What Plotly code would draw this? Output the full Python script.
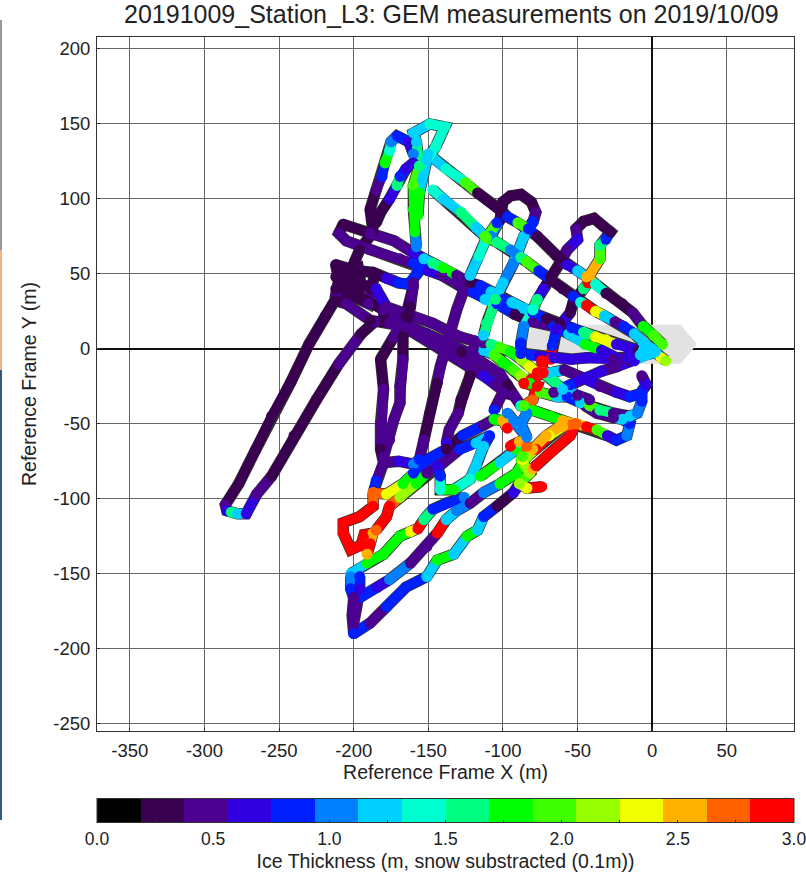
import plotly.graph_objects as go

band_colors = ["#000000", "#3a0050", "#4b0090", "#3000e0", "#0020ff", "#0080ff", "#00d0ff", "#00ffd0",
               "#00ff80", "#00ff00", "#40ff00", "#98ff00", "#f0ff00", "#ffb000", "#ff6000", "#ff0000"]
cbar_tickvals = [0, 0.25, 0.5, 0.75, 1.0, 1.25, 1.5, 1.75, 2.0, 2.25, 2.5, 2.75, 3.0]
cbar_ticktext = ["0.0", "", "0.5", "", "1.0", "", "1.5", "", "2.0", "", "2.5", "", "3.0"]
x_ticks = [-350, -300, -250, -200, -150, -100, -50, 0, 50]
x_labels = ["-350", "-300", "-250", "-200", "-150", "-100", "-50", "0", "50"]
y_ticks = [-250, -200, -150, -100, -50, 0, 50, 100, 150, 200]
y_labels = ["-250", "-200", "-150", "-100", "-50", "0", "50", "100", "150", "200"]
ship_x = [-86, -80, 19, 30, 19, -80]
ship_y = [3, 16, 16, 3, -10, -10]

west_leg = [(-211,35,.37),(-219,22,.3),(-230,3,.3),(-242,-22,.35),(-255,-45,.3),(-266,-68,.35),(-277,-90,.35),
            (-286,-104,.45),(-285,-108,.7),(-282,-109,1.5),(-278,-110,1.3),(-272,-110,.6),(-265,-97,.4),(-255,-85,.35),
            (-240,-58,.35),(-225,-34,.35),(-210,-10,.45),(-195,10,.35),(-186,18,.45)]
north_loop = [(-158,68,1.0),(-159,78,1.7),(-160,93,1.8),(-160,109,1.9),(-156,122,1.6),(-158,138,1.3),(-160,144,1.3),
              (-149,150,1.4),(-139,148,1.4),(-145,135,1.35),(-151,126,1.3),(-156,104,1.7),(-157,89,1.8)]
nw_leg_a = [(-189,93,.3),(-185,106,.45),(-181,115,.85),(-179,124,1.8),(-176,132,1.4),(-175,138,1.0),(-171,142,.75),(-163,138,.7),
            (-160,130,1.0),(-155,122,1.3)]
nw_leg_b = [(-185,84,.35),(-182,91,.35),(-176,100,.7),(-171,109,1.5),(-169,115,.8),(-165,120,.65),(-160,124,.7),(-155,122,1.2)]
nw_join = [(-189,93,.3),(-188,86,.3),(-187,78,.35),(-196,66,.35),(-205,45,.35)]
line_1 = [(-150,130,1.2),(-138,120,1.35),(-125,111,1.9),(-117,104,.3),(-102,93,.3),(-97,88,.8),(-90,84,1.9),(-83,80,.9),
          (-77,75,.3),(-64,62,.35),(-57,56,.65),(-50,52,1.3),(-44,48,2.5),(-38,43,1.4),(-31,37,.35),(-20,30,.3),(-13,24,.45),
          (-6,15,1.8),(1,9,1.9),(7,3,2.0)]
line_2 = [(-147,106,1.4),(-140,100,1.3),(-128,91,1.5),(-118,81,1.3),(-112,75,1.9),(-104,71,1.5),(-95,66,.95),(-88,61,1.6),
          (-84,58,1.9),(-76,52,.8),(-68,46,.35),(-60,40,.35),(-53,35,.75),(-48,31,1.4),(-44,29,2.9),(-38,25,2.3),(-32,22,1.3),
          (-25,18,.5),(-19,15,.8),(-12,10,1.2),(-6,4,1.2),(0,0,1.2),(6,-6,2.3),(9,-8,2.2)]
line_0 = [(-207,83,.35),(-189,77,.4),(-173,72,.4),(-160,64,.6),(-153,60,1.2),(-147,57,1.5),(-140,54,1.7),(-131,49,.4),
          (-122,44,.35),(-115,42,.8),(-108,38,1.2),(-100,33,.8),(-94,31,1.2),(-86,27,1.2),(-80,24,.8),(-71,20,.35),(-62,17,.35),
          (-54,14,.8),(-46,11,1.6),(-38,8,2.3),(-31,6,2.4),(-24,3,.7),(-16,0,.65),(-9,-1,.35),(-3,-3,.45)]
line_0b = [(-207,83,.35),(-210,77,.4),(-205,72,.4),(-189,66,.4),(-169,60,.4),(-160,57,.8),(-150,52,.7),(-141,49,.4),
           (-129,42,.45),(-120,38,.8),(-112,33,1.3),(-104,30,.8),(-92,23,.35),(-80,18,.45),(-66,15,.8),(-56,10,1.3),(-45,3,1.8),
           (-34,-1,.6),(-24,-6,.7),(-15,-8,.4)]
row_1 = [(-212,56,.35),(-198,52,.35),(-187,51,.25),(-178,47,.65),(-170,44,.85),(-163,43,.85),(-158,50,.85),(-152,57,.8)]
row_2 = [(-212,48,.35),(-197,44,.35),(-185,40,.65),(-178,28,.45),(-165,24,.45),(-147,17,.4),(-129,8,.4),(-113,4,.45),
         (-108,3,1.5),(-102,1,2.0),(-95,-2,1.8),(-88,-7,2.2),(-82,-12,2.35),(-77,-16,2.9),(-68,-16,1.3),(-59,-14,.45),
         (-45,-20,.65),(-35,-25,.5),(-24,-29,.65),(-15,-32,.8),(-8,-30,.8),(-4,-24,.65),(-7,-18,.4)]
row_3 = [(-212,40,.35),(-200,37,.35),(-180,26,.45),(-169,17,.4),(-151,10,.45),(-134,2,.4),(-118,-5,.4),(-113,-1,1.3),
         (-106,-4,1.9),(-100,-9,1.7),(-93,-14,1.9),(-88,-18,2.2),(-82,-23,1.7),(-75,-29,2.0),(-64,-32,1.3),(-57,-32,.9),
         (-48,-36,1.2),(-42,-38,1.9),(-35,-41,1.5),(-26,-43,.5),(-15,-45,1.3),(-10,-43,1.0),(-7,-35,.85),(-7,-30,.8)]
row_4 = [(-212,32,.35),(-205,30,.4),(-189,19,.35),(-176,17,.45),(-160,14,.4),(-142,4,.45),(-128,-2,.35),(-120,-5,.45),
         (-102,-17,.45),(-97,-24,.35),(-93,-31,.45),(-88,-38,1.4),(-80,-41,1.7),(-68,-45,1.7),(-60,-48,2.5),(-50,-50,2.5),
         (-44,-52,2.9),(-37,-54,2.0),(-30,-58,.65),(-24,-61,.85),(-17,-58,1.0),(-15,-50,.9),(-20,-47,1.3),(-26,-46,.4),
         (-37,-43,.45),(-45,-38,.4)]
row_5 = [(-180,23,.35),(-165,14,.4),(-142,0,.4),(-128,-7,.45),(-113,-18,.65),(-105,-24,.4),(-97,-30,.35)]
cross_1 = [(-122,49,1.3),(-116,62,1.4),(-111,74,1.9),(-104,84,.9)]
cross_2 = [(-80,85,.9),(-86,75,1.2),(-93,57,1.1),(-100,44,1.2),(-105,33,1.6),(-111,17,1.6),(-113,9,1.2)]
arch_1 = [(-108,75,1.0),(-102,86,.35),(-100,98,.35),(-95,102,.3),(-88,103,.3),(-81,98,.35),(-78,91,.4),(-80,84,.9)]
arch_2 = [(-68,-7,2.9),(-67,2,.9),(-64,13,.65),(-55,24,.35),(-53,31,.35),(-46,40,1.6),(-43,44,2.9),(-42,49,2.5),(-35,60,2.0),
          (-35,69,1.5),(-31,73,.8),(-28,78,.35),(-33,82,.35),(-39,87,.35),(-46,85,.35),(-51,80,.4),(-50,73,.7),(-57,66,.4),
          (-62,57,.35),(-68,48,.35),(-73,40,.7),(-77,33,1.6),(-80,26,1.4),(-86,15,1.0),(-88,4,.9),(-88,-3,.65)]
center_h = [(-88,-3,.85),(-76,-5,.65),(-66,-6,.65),(-54,-7,.65),(-44,-6,.6),(-34,-6,.65),(-26,-7,.4),(-16,-6,.65),(-8,-4,1.2),(0,-1,1.2)]
center_sw = [(-2,-3,1.2),(-12,-8,.7),(-24,-12,.4),(-34,-15,.65),(-44,-19,.65),(-55,-24,.85),(-66,-29,.45)]
red_ns = [(-74,-8,2.9),(-73,-16,2.9),(-86,-23,2.9),(-77,-25,2.9),(-80,-34,2.7),(-86,-38,2.0)]
mid_diag = [(-73,-16,1.6),(-65,-22,1.5),(-60,-27,1.3),(-50,-31,.5),(-42,-34,.45)]
south_1 = [(-182,-7,.35),(-173,8,.4),(-165,22,.35),(-160,42,.45)]
south_1b = [(-182,-7,.35),(-180,-27,.45),(-182,-50,.4),(-182,-67,.35),(-180,-76,.4),(-185,-88,.85),(-187,-96,2.5)]
south_2 = [(-160,44,.4),(-162,28,.35),(-167,8,.35),(-167,-7,.45),(-169,-25,.4),(-169,-36,.4),(-173,-47,.4),(-176,-61,.45),(-180,-72,.4)]
south_3 = [(-127,37,.4),(-131,26,.4),(-142,-12,.4),(-144,-23,.35),(-149,-43,.35),(-153,-61,.4),(-156,-74,.75)]
south_4 = [(-120,0,.4),(-122,-18,.35),(-128,-34,.35),(-130,-43,.4),(-136,-54,.45),(-138,-63,.65)]
south_5 = [(-93,-31,.45),(-100,-29,.45),(-106,-41,.8)]
cross_low = [(-180,-76,.4),(-170,-75,.65),(-160,-77,1.0),(-156,-74,.85)]
band_a = [(-187,-96,2.7),(-178,-97,2.3),(-167,-90,1.8),(-160,-83,.85),(-149,-73,.8),(-138,-67,.35),(-127,-58,.75),(-113,-51,.4),
          (-106,-47,1.7),(-100,-48,2.5),(-97,-53,2.9)]
band_b = [(-176,-105,2.7),(-169,-99,2.2),(-158,-90,1.7),(-151,-83,.45),(-140,-76,.4),(-129,-67,.75),(-118,-63,1.2),(-109,-58,1.0)]
cyan_loop = [(-109,-58,.85),(-113,-65,1.2),(-118,-78,1.2),(-122,-87,1.4),(-133,-94,1.7),(-142,-94,1.4),(-142,-85,.9),(-144,-78,.7)]
green_link = [(-115,-85,1.7),(-102,-76,1.3),(-91,-67,1.8),(-89,-63,1.6)]
red_loop = [(-187,-96,2.7),(-187,-105,2.9),(-196,-112,2.9),(-207,-116,2.9),(-207,-123,2.9),(-202,-134,2.9),(-195,-131,2.9),
            (-193,-124,2.9),(-187,-123,2.6),(-189,-130,2.9),(-191,-137,2.6)]
red_inner = [(-176,-105,2.9),(-178,-112,2.9),(-185,-121,2.7)]
band_c = [(-202,-150,1.2),(-191,-143,1.7),(-180,-137,1.7),(-169,-125,1.7),(-162,-122,2.35),(-157,-120,2.9),(-153,-114,1.6),
          (-147,-107,.85),(-138,-103,.85),(-126,-99,1.0)]
band_d = [(-196,-166,.8),(-184,-159,.7),(-176,-154,1.0),(-162,-143,.4),(-151,-132,.45),(-144,-123,2.9),(-138,-114,1.3),
          (-131,-108,1.1),(-122,-103,.45),(-113,-96,1.0),(-102,-90,1.7),(-91,-83,1.8),(-84,-72,2.2),(-78,-67,2.9),(-69,-58,2.4),
          (-60,-52,2.5)]
band_f = [(-200,-190,.85),(-189,-183,.45),(-178,-172,.85),(-165,-159,.8),(-151,-152,1.2),(-144,-141,1.7),(-133,-137,1.2),
          (-124,-125,1.7),(-117,-121,1.2),(-113,-112,.75),(-104,-105,.35),(-93,-96,.65),(-89,-90,1.9),(-82,-83,2.1),(-88,-74,1.9)]
south_tip = [(-202,-152,1.1),(-202,-160,.8),(-200,-166,.45),(-201,-178,.4),(-200,-190,.85)]
south_tip_b = [(-196,-152,.85),(-196,-160,.6),(-198,-172,.4),(-200,-183,.4)]
red_wedge = [(-74,-92,2.9),(-84,-93,2.35),(-89,-90,2.2)]
red_wedge_b = [(-80,-80,2.6),(-78,-78,2.9),(-69,-70,2.9),(-55,-58,2.9),(-51,-50,2.7),(-62,-52,2.6),(-71,-58,2.5),(-80,-67,2.5),(-87,-74,2.3)]
red_small = [(-95,-65,2.9),(-89,-62,2.6),(-84,-65,2.7),(-87,-72,1.9)]
blue_v = [(-97,-43,.95),(-91,-50,1.0),(-84,-59,1.0),(-88,-50,1.0),(-84,-43,1.0)]
hub = [(-6,-1,1.2),(-2,1,1.2),(2,-2,1.2),(-3,-4,1.2)]
west_blob = [(-212,56,.35),(-210,46,.35),(-212,36,.4),(-206,32,.35),(-202,40,.35),(-204,52,.35),(-197,54,.35),(-195,42,.35),(-198,34,.35),
             (-190,30,.4),(-188,40,.35),(-186,50,.35)]

tracks = [west_leg, nw_leg_a, nw_leg_b, nw_join, west_blob, row_5, row_4, row_3, row_2, row_1, line_0b, line_0, south_1, south_1b,
          south_2, south_3, south_4, south_5, cross_low, arch_1, cross_1, cross_2, arch_2, line_1, line_2, north_loop,
          center_sw, center_h, mid_diag, band_c, band_d, band_f, band_a, band_b, cyan_loop, green_link, south_tip,
          south_tip_b, red_loop, red_inner, red_wedge, red_wedge_b, red_small, blue_v, red_ns, hub]

vmin, vmax = 0.0, 3.0
n = len(band_colors)
scale = []
for i, c in enumerate(band_colors):
    scale += [[i / n, c], [(i + 1) / n, c]]


def band(v):
    return min(n - 1, int((v - vmin) / (vmax - vmin) * n))


fig = go.Figure()
fig.add_trace(go.Scatter(x=ship_x, y=ship_y, mode="lines", fill="toself", fillcolor="#e2e2e2",
                         line=dict(width=0), hoverinfo="skip", showlegend=False))
for t in tracks:
    fig.add_trace(go.Scatter(x=[p[0] for p in t], y=[p[1] for p in t], mode="lines",
                             line=dict(color="#333333", width=11.5),
                             hoverinfo="skip", showlegend=False))
for t in tracks:
    i = 0
    while i < len(t) - 1:
        j = i + 1
        while j < len(t) - 1 and band(t[j][2]) == band(t[i][2]):
            j += 1
        fig.add_trace(go.Scatter(x=[p[0] for p in t[i:j + 1]], y=[p[1] for p in t[i:j + 1]], mode="lines",
                                 line=dict(color=band_colors[band(t[i][2])], width=10), hoverinfo="skip", showlegend=False))
        i = j

all_x = [p[0] for t in tracks for p in t]
all_y = [p[1] for t in tracks for p in t]
all_v = [p[2] for t in tracks for p in t]
fig.add_trace(go.Scatter(
    x=all_x, y=all_y, mode="markers", showlegend=False,
    marker=dict(size=11, color=all_v, cmin=vmin, cmax=vmax, colorscale=scale, line=dict(width=0),
                colorbar=dict(orientation="h", lenmode="pixels", len=697, thicknessmode="pixels", thickness=24,
                              xref="paper", yref="container", x=0.5, xanchor="center", y=2 / 875, yanchor="bottom",
                              tickmode="array", tickvals=cbar_tickvals, ticktext=cbar_ticktext, ticks="inside", ticklen=3,
                              ticklabeloverflow="allow",
                              tickcolor="#333", outlinecolor="#333", outlinewidth=1,
                              tickfont=dict(size=17.5, color="#222"), ypad=0, xpad=0,
                              title=dict(text="Ice Thickness (m, snow substracted (0.1m))", side="bottom",
                                         font=dict(size=19.5, color="#222"))))))

axis = dict(showline=True, mirror=True, linecolor="#333", linewidth=1, gridcolor="#666", gridwidth=1,
            zeroline=True, zerolinecolor="#111", zerolinewidth=2, ticks="inside", ticklen=3, tickcolor="#333",
            tickfont=dict(size=18.5, color="#222"))
strip_shapes = [dict(type="rect", xref="paper", yref="paper", x0=-97 / 697, x1=-95 / 697, y0=y0, y1=y1, fillcolor=c, line=dict(width=0))
                for y0, y1, c in [(1 + 17 / 694, 1 - 213 / 694, "#999999"), (1 - 213 / 694, 1 - 333 / 694, "#f5b183"),
                                  (1 - 333 / 694, 1 - 783 / 694, "#34587f")]]
fig.update_layout(
    width=806, height=875, margin=dict(l=97, r=12, t=37, b=144, autoexpand=False), plot_bgcolor="white", paper_bgcolor="white",
    font=dict(family="Liberation Sans, Arial, sans-serif", color="#222"),
    shapes=strip_shapes,
    title=dict(text="20191009_Station_L3: GEM measurements on 2019/10/09", x=0.56, xanchor="center", y=0.9835, yanchor="middle",
               font=dict(size=25, color="#222")),
    xaxis=dict(axis, range=[-372, 95], tickvals=x_ticks, ticktext=x_labels, ticklabelstandoff=3,
               title=dict(text="Reference Frame X (m)", font=dict(size=19.5, color="#222"), standoff=4)),
    yaxis=dict(axis, range=[-255, 208], tickvals=y_ticks, ticktext=y_labels, ticklabelstandoff=2,
               title=dict(text="Reference Frame Y (m)", font=dict(size=19.5, color="#222"), standoff=11)),
)
fig.write_html("out.html", config=dict(displayModeBar=False),
               post_script="document.body.style.margin='0';document.body.style.overflow='hidden';")
